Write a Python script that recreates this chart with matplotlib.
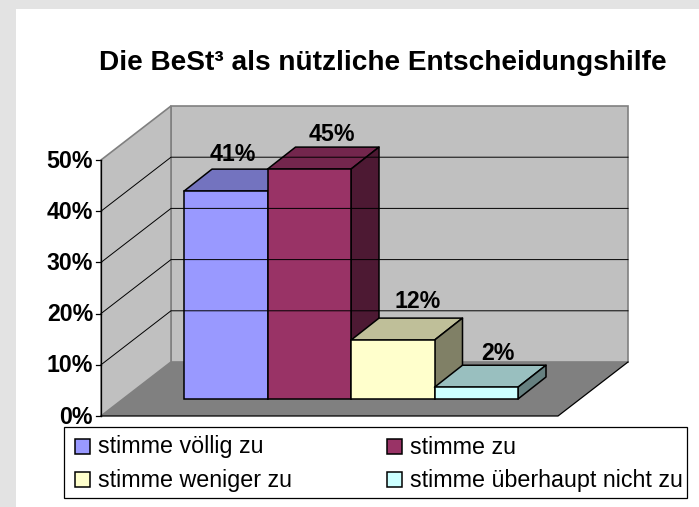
import matplotlib
matplotlib.use("Agg")
import matplotlib.pyplot as plt
from matplotlib.patches import Polygon, Rectangle

plt.rcParams['font.family'] = ['Liberation Sans', 'DejaVu Sans']

title = "Die BeSt³ als nützliche Entscheidungshilfe"
categories = ["stimme völlig zu", "stimme zu", "stimme weniger zu", "stimme überhaupt nicht zu"]
values = [40.6, 44.9, 11.5, 2.3]
value_labels = ["41%", "45%", "12%", "2%"]
y_ticks = [0, 10, 20, 30, 40, 50]
y_tick_labels = ["0%", "10%", "20%", "30%", "40%", "50%"]

front_colors = ["#9999FF", "#993366", "#FFFFCC", "#CCFFFF"]
top_colors = ["#7373BF", "#73264D", "#BFBF99", "#99BFBF"]
side_colors = ["#4D4D80", "#4D1933", "#808066", "#668080"]

# pixel geometry of the fake 3d box
X0, Y0 = 101, 416       # front corner of the axis
X1 = 558                # front right of floor
DX, DY = 70, -54        # wall depth
PX_PER_UNIT = 5.12
BAR_X = 184
BAR_W = 83.5
BAR_BASE = 399
BAR_DX, BAR_DY = 28, -22

# where each value label sits relative to its bar
label_dx = [49, 64, 67, 63]
label_dy = [-36.5, -35, -39, -34]


def vy(v):
    return v * PX_PER_UNIT


fig = plt.figure(figsize=(6.99, 5.07), dpi=100, facecolor="#E3E3E3")
ax = fig.add_axes([0, 0, 1, 1])
ax.set_xlim(0, 699)
ax.set_ylim(507, 0)
ax.axis("off")

ax.add_patch(Rectangle((16, 9), 683, 498, fc="white", ec="none"))
ax.text(382.5, 63.5, title, fontsize=20.2, fontweight="bold", ha="center", va="center")

top = vy(max(y_ticks))

# back wall, side wall, floor
ax.add_patch(Polygon([(X0 + DX, Y0 + DY), (X1 + DX, Y0 + DY), (X1 + DX, Y0 + DY - top), (X0 + DX, Y0 + DY - top)],
                     fc="#C0C0C0", ec="#808080", lw=1.2))
ax.add_patch(Polygon([(X0, Y0), (X0 + DX, Y0 + DY), (X0 + DX, Y0 + DY - top), (X0, Y0 - top)],
                     fc="#C0C0C0", ec="#808080", lw=1.2))
ax.add_patch(Polygon([(X0, Y0), (X1, Y0), (X1 + DX, Y0 + DY), (X0 + DX, Y0 + DY)], fc="#808080", ec="none"))

# gridlines on both walls
for t in y_ticks[1:-1]:
    y = Y0 - vy(t)
    ax.plot([X0, X0 + DX, X1 + DX], [y, y + DY, y + DY], color="black", lw=0.7)

# floor edges and y axis
ax.plot([X0, X1, X1 + DX], [Y0, Y0, Y0 + DY], color="black", lw=0.9)
ax.plot([X0, X0], [Y0, Y0 - top], color="black", lw=0.9)
for t, lab in zip(y_ticks, y_tick_labels):
    y = Y0 - vy(t)
    ax.plot([X0 - 5, X0], [y, y], color="black", lw=0.9)
    ax.text(93, y + 1, lab, fontsize=16.7, fontweight="bold", ha="right", va="center")

# bars, left to right
for i, v in enumerate(values):
    x = BAR_X + i * BAR_W
    h = vy(v)
    ytop = BAR_BASE - h
    ax.add_patch(Polygon([(x, ytop), (x + BAR_W, ytop), (x + BAR_W + BAR_DX, ytop + BAR_DY), (x + BAR_DX, ytop + BAR_DY)],
                         fc=top_colors[i], ec="black", lw=1.1, joinstyle="round"))
    ax.add_patch(Polygon([(x + BAR_W, BAR_BASE), (x + BAR_W + BAR_DX, BAR_BASE + BAR_DY),
                          (x + BAR_W + BAR_DX, ytop + BAR_DY), (x + BAR_W, ytop)],
                         fc=side_colors[i], ec="black", lw=1.1, joinstyle="round"))
    ax.add_patch(Rectangle((x, ytop), BAR_W, h, fc=front_colors[i], ec="black", lw=1.1))

for i, v in enumerate(values):
    x = BAR_X + i * BAR_W
    ax.text(x + label_dx[i], BAR_BASE - vy(v) + label_dy[i], value_labels[i],
            fontsize=16.7, fontweight="bold", ha="center", va="center")

# legend
ax.add_patch(Rectangle((64, 427), 623, 71, fc="white", ec="black", lw=0.9, zorder=5))
legend_x = [75, 75 + 312, 75, 75 + 312]
legend_y = [439, 439, 472, 472]
for i, name in enumerate(categories):
    ax.add_patch(Rectangle((legend_x[i], legend_y[i]), 15, 15, fc=front_colors[i], ec="black", lw=1.1, zorder=6))
    ax.text(legend_x[i] + 23, legend_y[i] + 8, name, fontsize=16.75, ha="left", va="center", zorder=6)

fig.savefig("out.png", dpi=100, facecolor=fig.get_facecolor())
